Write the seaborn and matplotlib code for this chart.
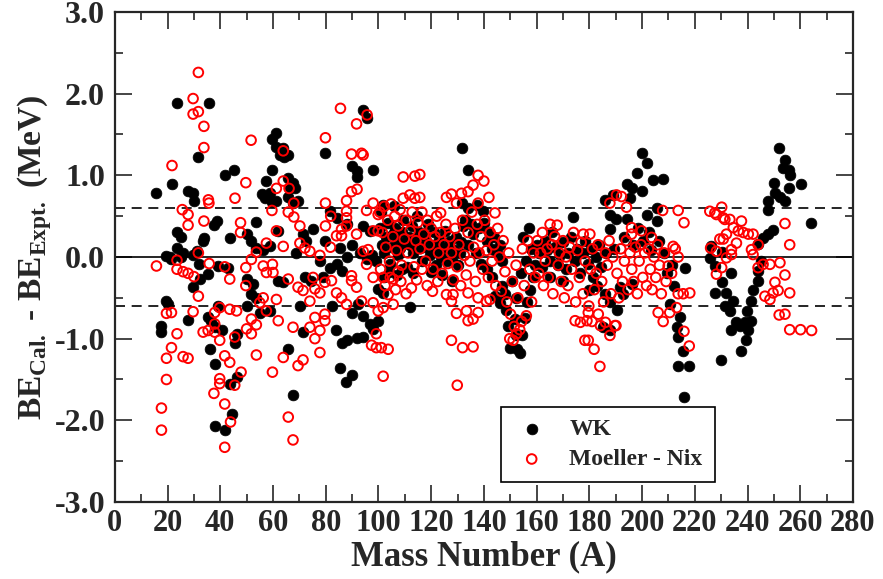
import numpy as np
import pandas as pd
import matplotlib
matplotlib.use('Agg')
import matplotlib.pyplot as plt
import seaborn as sns
from matplotlib.ticker import MultipleLocator, FormatStrFormatter

# WK model: binding-energy difference vs mass number
wk_mass_light = [15.8, 17.7, 17.7, 19.6, 19.6, 20.2, 20.9, 21.5, 21.7, 23.6,
                 23.6, 23.6, 25.3, 25.3, 25.9, 27.8, 27.8, 29.5, 29.7, 29.7,
                 30.0, 31.0, 31.7, 32.0, 32.2, 33.3, 33.8, 35.4, 35.4, 35.7,
                 36.0, 36.6, 37.6, 37.9, 37.9, 37.9, 38.6, 39.2, 39.2, 40.5,
                 41.7, 41.7, 43.0, 43.6, 43.6, 44.3, 45.4, 45.5, 46.2, 46.2,
                 50.0, 50.0, 50.0, 51.8, 51.8, 52.5, 53.7, 53.7, 53.7, 55.0,
                 56.0, 56.3, 57.0, 57.5, 58.8, 58.8, 59.7, 59.6, 59.8, 61.3,
                 61.3, 61.3, 62.0, 62.0, 62.6, 63.9, 63.9, 64.1, 65.8, 65.8,
                 65.8, 65.8, 58.8]
wk_diff_light = [0.78, -0.84, -0.92, 0.01, -0.54, -0.58, 0.00, -0.03, 0.89, 1.89,
                 0.30, 0.11, 0.24, 0.00, 0.05, 0.81, -0.77, 0.78, 0.03, -0.37,
                 0.69, 0.07, 1.23, -0.09, -0.27, 0.19, 0.23, -0.21, -0.74, 1.88,
                 -1.13, -0.78, 0.39, -0.86, -1.31, -2.07, 0.44, -0.11, -0.60, -0.90,
                 1.00, -2.12, -0.13, 0.23, -1.55, -1.92, 1.07, -1.05, -0.94, -1.47,
                 0.28, -0.27, -0.60, 0.20, -0.45, -0.33, 0.43, 0.11, -0.50, -0.68,
                 0.77, 0.09, 0.72, 0.93, -0.66, 0.78, 0.67, 1.45, 1.07, 1.52,
                 1.35, 0.68, -0.29, 0.32, 1.25, 1.33, -0.31, 1.23, 1.25, 0.97,
                 0.74, -1.13, 0.13]

wk_mass_mid = [66.4, 67.6, 67.6, 67.6, 68.3, 68.9, 69.5, 70.2, 71.4, 71.4,
               72.1, 72.7, 74.6, 75.2, 77.8, 79.0, 79.7, 79.7, 81.6, 81.6,
               82.2, 83.8, 84.1, 84.1, 85.4, 85.6, 86.0, 86.0, 87.6, 87.9,
               87.9, 87.9, 89.8, 89.8, 89.8, 89.8, 91.7, 91.9, 91.9, 92.3,
               94.0, 94.2, 94.2, 94.2, 95.7, 96.7, 96.7, 98.0, 98.0, 99.9,
               99.9, 95.5, 97.5, 99.0, 93.0]
wk_diff_mid = [0.85, 0.91, 0.66, -1.69, 0.85, 0.05, 0.68, -0.60, 0.28, -0.92,
               -0.25, 0.20, -0.29, 0.34, -0.05, -0.25, 1.27, 0.20, 0.56, -0.13,
               -0.60, -0.89, 0.48, -0.09, 0.11, -1.36, -1.05, -0.17, -1.53, 0.40,
               0.00, -1.02, 1.12, 0.15, -0.68, -1.45, 1.05, 0.98, -0.99, -0.58,
               1.80, 0.38, -0.72, -0.98, 1.70, -0.82, 0.32, 1.06, -0.88, -0.78,
               -0.39, -0.02, 0.02, -0.05, 0.05]

wk_mass_dense = [100.5, 101.5, 101.8, 101.8, 102.3, 103.0, 103.8, 104.5, 105.2, 105.6,
                 106.3, 106.9, 107.5, 108.1, 108.8, 109.5, 110.2, 110.8, 111.5, 111.9,
                 112.6, 113.3, 114.0, 114.7, 115.3, 115.7, 116.4, 117.1, 117.8, 118.2,
                 118.9, 119.6, 120.3, 121.0, 121.7, 122.4, 123.1, 123.8, 124.5, 125.2,
                 125.9, 126.6, 127.3, 128.0, 128.7, 129.4, 130.1, 130.8, 131.5, 132.2,
                 111.9, 102.0, 104.0, 107.0, 109.0, 113.0, 120.0, 124.0, 128.0, 101.0,
                 106.0, 131.8, 133.8, 131.8, 134.0, 137.2, 139.7, 133.0, 135.0, 136.0,
                 138.0, 140.0, 141.0, 142.0, 143.0, 144.0, 145.0, 146.0, 147.0, 134.0,
                 137.0, 139.0, 141.0, 143.0, 144.2, 146.0, 147.0, 148.0, 148.5, 149.2,
                 149.8, 151.7, 152.4, 153.6, 152.0, 154.5, 155.5, 156.5, 157.5, 158.5,
                 159.5, 150.5, 152.0, 154.0, 156.0, 158.0, 160.0, 155.0, 157.0]
wk_diff_dense = [0.36, 0.15, -0.44, 0.64, 0.05, 0.25, 0.42, -0.08, 0.12, 0.28,
                 0.35, 0.20, 0.02, 0.11, 0.30, 0.45, 0.18, -0.12, 0.25, 0.15,
                 0.38, 0.05, 0.22, 0.50, 0.30, 0.11, -0.05, 0.28, 0.12, 0.20,
                 0.40, 0.02, 0.15, 0.30, -0.10, 0.08, 0.22, 0.00, 0.12, 0.32,
                 -0.05, 0.10, 0.20, -0.02, 0.08, 0.25, -0.10, 0.05, 0.18, 0.38,
                 -0.61, -0.25, -0.18, -0.22, -0.15, -0.20, -0.18, -0.22, -0.30, 0.55,
                 0.62, 1.33, 1.07, 0.66, 0.60, 0.64, 0.56, 0.45, 0.40, 0.28,
                 0.35, 0.42, 0.20, 0.30, 0.10, 0.25, 0.05, 0.15, -0.05, 0.15,
                 0.05, -0.08, -0.15, -0.25, -0.48, -0.56, -0.35, -0.45, -0.65, -0.84,
                 -1.11, -0.76, -1.13, -1.17, -0.95, -0.95, -0.75, -0.55, -0.40, -0.25,
                 -0.10, -0.30, -0.50, -0.20, -0.05, 0.10, 0.15, 0.25, 0.35]

wk_mass_heavy = [161.0, 162.0, 163.0, 164.0, 165.0, 166.0, 167.0, 168.0, 169.0, 170.0,
                 171.0, 172.0, 173.0, 173.9, 174.5, 175.5, 176.5, 177.5, 178.5, 179.5,
                 180.5, 181.5, 182.5, 183.5, 184.5, 185.2, 185.9, 186.5, 187.8, 187.8,
                 187.8, 189.0, 189.5, 190.3, 191.6, 192.9, 193.0, 194.1, 194.1, 195.4,
                 196.0, 196.0, 196.5, 197.9, 198.5, 199.8, 199.8, 200.5, 201.7, 201.9,
                 202.5, 203.5, 204.0, 205.7, 205.7, 206.5, 207.8, 208.5, 209.5, 210.5,
                 211.5, 212.3, 213.1, 213.7, 213.7, 214.3, 215.6, 215.9, 216.2, 217.9,
                 188.0, 190.5, 186.0, 183.0, 180.0, 170.0, 165.0]
wk_diff_heavy = [0.05, -0.12, 0.20, 0.08, -0.05, 0.30, 0.12, -0.10, 0.02, 0.18,
                 -0.15, 0.05, 0.25, 0.49, -0.05, 0.10, -0.20, 0.05, 0.20, -0.08,
                 0.10, -0.25, 0.00, 0.15, -0.12, -0.86, 0.70, 0.05, -0.90, 0.52,
                 0.34, 0.76, 0.10, 0.46, -0.37, -0.45, 0.25, 0.89, 0.46, 0.72,
                 0.85, -0.33, 0.15, 1.03, 0.35, 1.27, 0.81, 0.20, 0.52, 1.15,
                 0.30, 0.08, 0.94, 0.60, 0.44, 0.20, 0.96, 0.05, -0.20, -0.58,
                 -0.10, -0.35, -0.86, -0.98, -1.33, -0.74, -1.15, -1.71, -0.13, -1.34,
                 -0.55, -0.65, -0.45, -0.35, -0.40, -0.30, -0.25]

wk_mass_actinide = [225.7, 226.0, 227.6, 227.6, 229.8, 230.2, 230.2, 231.4, 232.0, 233.3,
                    233.9, 233.9, 234.6, 235.8, 237.1, 237.7, 239.0, 239.6, 239.8, 240.3,
                    241.5, 241.5, 242.1, 244.0, 244.0, 244.0, 245.3, 245.9, 247.8, 247.8,
                    247.8, 249.7, 250.0, 250.4, 251.9, 252.5, 253.5, 254.2, 254.2, 255.8,
                    255.8, 256.0, 260.1, 263.9]
wk_diff_actinide = [-0.01, 0.13, -0.11, -0.44, -1.26, 0.06, -0.31, -0.60, -0.44, -0.66,
                    -0.19, -0.90, -0.54, -0.80, -0.84, -1.15, -0.80, -1.02, -0.66, -0.90,
                    -0.78, -0.54, -0.41, -0.29, -0.17, 0.16, -0.05, 0.23, 0.28, 0.68,
                    0.57, 0.33, 0.91, 0.78, 1.34, 0.74, 1.09, 1.19, 0.68, 1.07,
                    0.85, 1.00, 0.89, 0.42]

# Moeller - Nix
mn_mass_light = [15.8, 17.7, 17.7, 19.6, 19.6, 19.6, 21.5, 21.5, 21.7, 23.6,
                 23.6, 23.6, 25.6, 25.9, 25.9, 27.8, 27.8, 27.8, 27.8, 29.7,
                 29.7, 29.7, 30.0, 31.7, 31.7, 31.7, 31.7, 33.5, 33.8, 33.8,
                 33.8, 35.4, 35.5, 35.7, 35.8, 37.6, 37.9, 37.9, 37.9, 39.8,
                 39.8, 39.8, 39.8, 41.7, 41.7, 41.7, 41.7, 43.6, 43.6, 43.6,
                 43.9, 45.5, 45.5, 45.6, 46.2, 47.7, 47.7, 47.9, 49.7, 49.7,
                 49.7, 50.0, 51.7, 51.8, 51.8, 51.8, 53.7, 53.7, 53.7, 55.0,
                 56.3, 56.3, 57.5, 57.5, 57.5, 59.6, 59.8, 59.8, 60.0, 61.3,
                 61.3, 61.3, 62.0, 63.9, 63.9, 63.9, 63.9, 65.8, 65.8, 65.8]
mn_diff_light = [-0.11, -1.85, -2.12, -0.69, -1.24, -1.50, -0.68, -1.11, 1.12, -0.04,
                 -0.15, -0.94, 0.58, -0.18, -1.22, 0.52, 0.39, -0.20, -1.24, 1.94,
                 1.75, -0.67, -0.24, 2.26, 1.78, 0.05, -0.48, -0.92, 1.60, 1.34,
                 0.44, -0.90, 0.70, 0.66, -0.08, -1.67, -0.68, -0.82, -0.92, -0.62,
                 -1.02, -1.49, -1.55, -0.12, -1.21, -1.80, -2.33, -0.27, -0.64, -1.29,
                 -2.02, -0.98, -1.57, 0.72, -0.66, 0.42, 0.30, -1.41, 0.91, -0.13,
                 -0.35, -0.88, 1.43, -0.03, -0.76, -0.94, 0.06, -0.83, -1.20, -0.56,
                 -0.11, -0.50, 0.17, -0.19, -0.66, 0.57, -0.09, -1.41, -0.19, 0.84,
                 0.32, -0.52, -0.78, 1.30, 0.93, 0.13, -1.23, 0.55, -0.27, -1.96]

mn_mass_mid = [66.1, 67.6, 67.6, 67.9, 67.9, 69.5, 69.5, 70.2, 70.2, 71.4,
               71.4, 72.1, 74.0, 74.0, 74.0, 75.2, 75.9, 75.9, 75.9, 77.8,
               77.8, 77.8, 77.8, 79.7, 79.7, 79.7, 79.9, 79.9, 79.9, 81.8,
               81.9, 82.2, 84.1, 84.1, 85.6, 86.0, 86.0, 86.0, 87.9, 87.9,
               87.9, 87.9, 87.9, 89.8, 89.8, 89.8, 89.8, 91.7, 91.7, 91.7,
               91.9, 93.6, 93.6, 94.2, 95.5, 95.7, 97.4, 98.0, 98.0, 98.0,
               99.2, 99.2, 99.9, 95.5, 99.9, 98.0, 99.9, 96.1, 94.2]
mn_diff_mid = [0.84, -0.86, -2.24, 0.66, 0.49, -0.37, -1.33, 0.38, 0.17, -0.41,
               -1.26, 0.11, 0.07, -0.54, -0.86, -0.25, -0.39, -0.74, -1.00, 0.02,
               -0.44, -0.90, -1.17, -0.31, -0.70, -0.78, 1.46, 0.66, 0.38, 0.12,
               0.50, -0.29, 0.26, -0.44, 1.82, 0.34, 0.26, -0.50, 0.69, 0.56,
               0.48, 0.38, -0.58, 1.26, 0.80, -0.23, -0.29, 1.63, 0.28, -0.37,
               0.83, 1.27, -0.54, 1.25, -0.09, 1.74, -1.08, 0.66, -0.25, -0.56,
               -0.94, -1.11, -0.66, 0.57, 0.52, 0.32, 0.32, 0.09, 0.07]

mn_mass_dense = [100.5, 101.5, 102.2, 102.8, 103.5, 104.2, 104.8, 105.5, 106.2, 106.8,
                 107.5, 108.2, 108.8, 109.4, 109.4, 109.8, 110.5, 111.2, 111.9, 112.0,
                 112.8, 113.5, 113.8, 113.8, 114.2, 114.9, 115.7, 115.7, 115.8, 116.5,
                 117.2, 117.9, 118.6, 119.3, 120.0, 120.7, 121.4, 122.1, 122.8, 123.5,
                 123.6, 124.2, 124.9, 125.6, 125.8, 126.3, 127.0, 127.7, 127.7, 128.4,
                 129.1, 129.6, 129.8, 130.5, 131.2, 131.5, 131.9, 132.6, 133.3, 134.0,
                 134.0, 134.7, 135.4, 135.9, 136.1, 136.8, 137.5, 137.8, 137.8, 138.2,
                 138.9, 139.6, 140.0, 140.3, 141.0, 141.7, 141.9, 142.4, 143.1, 143.8,
                 144.2, 144.5, 145.2, 145.9, 146.6, 147.3, 148.0, 148.7, 149.4, 149.8,
                 150.1, 150.8, 151.1, 151.5, 152.2, 152.4, 152.9, 153.6, 154.3, 154.6,
                 155.3, 156.1, 156.7, 157.4, 158.1, 158.8, 159.5,
                 100.8, 102.5, 104.5, 106.5, 108.5, 110.5, 112.5, 114.5, 116.5, 118.5,
                 120.5, 122.5, 125.8, 128.3, 127.7, 134.0, 137.8, 140.9, 142.3, 129.6,
                 133.4, 134.0, 135.9, 137.8, 127.7, 131.9, 135.9, 129.9, 101.8, 105.6,
                 107.5, 103.7, 101.8, 105.6, 101.1, 103.7, 101.8]
mn_diff_dense = [0.55, 0.30, 0.62, 0.12, 0.45, -0.05, 0.65, 0.25, 0.50, 0.08,
                 0.38, 0.58, -0.10, 0.98, 0.72, 0.22, 0.45, 0.05, 0.76, 0.32,
                 0.55, -0.12, 0.99, 0.72, 0.20, 0.42, 1.01, 0.73, 0.10, 0.55,
                 0.28, -0.05, 0.45, 0.15, 0.35, -0.15, 0.25, 0.50, 0.05, 0.30,
                 0.54, -0.20, 0.15, 0.40, 0.73, -0.08, 0.25, 0.77, 0.05, -0.28,
                 0.35, 0.66, -0.12, 0.15, -0.35, 0.78, 0.45, 0.02, -0.22, 0.80,
                 0.30, -0.05, 0.55, 0.88, 0.12, -0.30, 0.40, 1.00, 0.66, 0.05,
                 0.25, -0.15, 0.93, 0.45, 0.08, -0.25, 0.73, 0.30, -0.05, 0.15,
                 0.54, -0.35, 0.35, 0.00, -0.42, 0.20, -0.18, -0.55, 0.05, -1.00,
                 -0.70, -0.30, -1.02, -0.85, -0.10, -0.94, -0.50, -0.89, -0.79, 0.10,
                 -0.35, -0.72, 0.20, -0.15, -0.55, 0.05, -0.25,
                 -0.15, -0.35, -0.25, -0.40, -0.30, -0.45, -0.38, -0.28, -0.15, -0.35,
                 -0.42, -0.30, -0.46, -0.46, -0.54, -0.44, -0.50, -0.54, -0.52, -0.69,
                 -0.66, -0.78, -0.76, -0.68, -1.02, -1.11, -1.10, -1.57, -0.25, -0.27,
                 -0.18, -0.46, -0.62, -0.58, -1.11, -1.13, -1.46]

mn_mass_heavy = [160.3, 160.8, 161.5, 162.2, 162.6, 163.3, 164.0, 164.4, 165.1, 165.8,
                 166.2, 166.9, 167.8, 168.2, 168.6, 169.3, 170.0, 170.5, 171.2, 171.9,
                 172.6, 173.3, 174.0, 174.6, 174.8, 175.5, 176.2, 176.6, 176.9, 177.7,
                 177.6, 178.3, 178.4, 179.1, 179.6, 179.6, 179.8, 180.2, 180.5, 181.0,
                 181.2, 181.8, 181.9, 182.6, 183.3, 183.4, 184.0, 184.2, 184.7, 185.4,
                 186.1, 186.1, 186.8, 187.5, 187.8, 187.8, 188.2, 188.9, 189.7, 190.1,
                 190.3, 190.5, 191.2, 191.9, 192.2, 192.6, 193.3, 194.0, 194.1, 194.7,
                 195.4, 196.0, 196.0, 196.1, 196.8, 197.5, 198.2, 198.9, 199.6, 199.8,
                 200.3, 201.0, 201.7, 202.4, 203.1, 203.6, 203.8, 204.5, 205.2, 205.9,
                 206.1, 206.6, 207.3, 207.8, 208.0, 208.4, 209.1, 209.9, 210.5, 211.2,
                 211.8, 212.6, 213.1, 213.7, 213.7, 213.7, 215.6, 215.9, 215.9, 217.9,
                 218.1]
mn_diff_heavy = [0.20, -0.20, 0.05, 0.30, -0.35, -0.05, 0.10, -0.25, 0.40, 0.15,
                 -0.45, 0.25, 0.39, -0.10, 0.05, -0.30, 0.20, -0.50, 0.00, -0.35,
                 0.12, -0.15, 0.30, -0.78, -0.55, 0.08, -0.25, -0.80, 0.18, 0.28,
                 -0.45, -1.02, -0.05, -0.78, -1.02, -0.68, -0.60, 0.28, -0.15, -0.79,
                 0.10, -1.13, -0.40, -0.20, 0.15, -0.70, -1.34, -0.84, -0.30, -0.55,
                 -0.80, 0.05, -0.10, 0.20, 0.66, -0.96, -0.45, 0.00, -0.84, -0.84,
                 0.76, -0.20, -0.50, 0.10, 0.74, -0.30, -0.05, 0.20, 0.61, -0.40,
                 0.05, 0.36, 0.28, -0.15, -0.30, 0.12, -0.45, -0.05, 0.15, 0.32,
                 -0.25, 0.05, -0.35, 0.10, -0.15, 0.24, -0.40, 0.00, -0.25, 0.15,
                 -0.68, -0.10, -0.45, 0.57, -0.79, 0.05, -0.30, -0.11, -0.68, -0.20,
                 0.13, 0.10, -0.62, 0.57, 0.00, -0.45, -0.45, 0.42, -0.91, -1.09,
                 -0.44]

mn_mass_actinide = [225.7, 226.0, 227.6, 228.2, 228.2, 228.2, 229.5, 230.2, 230.2, 230.8,
                    230.8, 231.4, 232.0, 232.0, 233.3, 233.9, 233.9, 234.6, 235.8, 236.5,
                    237.7, 238.4, 240.3, 241.5, 242.1, 242.1, 244.0, 244.0, 245.9, 246.6,
                    248.5, 248.5, 249.7, 250.4, 251.6, 252.0, 252.3, 254.2, 254.2, 254.2,
                    256.0, 256.0, 256.0, 260.1, 264.3]
mn_diff_actinide = [0.56, 0.11, 0.54, -0.21, 0.52, 0.07, 0.22, 0.61, -0.13, 0.48,
                    0.22, 0.46, 0.28, -0.01, 0.46, 0.09, 0.03, 0.36, 0.17, 0.32,
                    0.44, 0.30, 0.28, 0.09, 0.28, 0.03, 0.15, -0.13, -0.09, -0.48,
                    -0.09, -0.52, -0.44, -0.31, -0.41, -0.71, -0.07, 0.41, -0.22, -0.70,
                    0.15, -0.44, -0.89, -0.89, -0.90]

wk = pd.DataFrame({
    'A': wk_mass_light + wk_mass_mid + wk_mass_dense + wk_mass_heavy + wk_mass_actinide,
    'dBE': wk_diff_light + wk_diff_mid + wk_diff_dense + wk_diff_heavy + wk_diff_actinide,
})
mn = pd.DataFrame({
    'A': mn_mass_light + mn_mass_mid + mn_mass_dense + mn_mass_heavy + mn_mass_actinide,
    'dBE': mn_diff_light + mn_diff_mid + mn_diff_dense + mn_diff_heavy + mn_diff_actinide,
})

sns.set_style('ticks')
plt.rcParams['font.family'] = ['Liberation Serif', 'DejaVu Serif']
plt.rcParams['font.weight'] = 'bold'
plt.rcParams['mathtext.fontset'] = 'custom'
plt.rcParams['mathtext.rm'] = 'Liberation Serif:bold'
plt.rcParams['mathtext.bf'] = 'Liberation Serif:bold'

fig, ax = plt.subplots(figsize=(8.83, 5.79), dpi=100)
fig.subplots_adjust(left=0.130, right=0.966, top=1 - 12 / 579, bottom=0.133)

ax.axhline(0, color='black', lw=1.2, zorder=1)
ax.axhline(0.6, color='black', lw=1.2, ls=(0, (6, 4)), zorder=1)
ax.axhline(-0.6, color='black', lw=1.2, ls=(0, (6, 4)), zorder=1)

sns.scatterplot(data=wk, x='A', y='dBE', color='black', edgecolor='black',
                s=60, linewidth=0.5, label='WK', ax=ax, zorder=3)
sns.scatterplot(data=mn, x='A', y='dBE', facecolor='none', edgecolor='red',
                s=48, linewidth=1.4, label='Moeller - Nix', ax=ax, zorder=4)

ax.set_xlim(0, 280)
ax.set_ylim(-3, 3)
ax.xaxis.set_major_locator(MultipleLocator(20))
ax.xaxis.set_minor_locator(MultipleLocator(10))
ax.yaxis.set_major_locator(MultipleLocator(1))
ax.yaxis.set_minor_locator(MultipleLocator(0.5))
ax.yaxis.set_major_formatter(FormatStrFormatter('%.1f'))
ax.tick_params(which='both', direction='in', top=True, right=True, width=1.2)
ax.tick_params(which='major', length=12)
ax.tick_params(axis='x', which='major', labelsize=22, pad=5)
ax.tick_params(axis='y', which='major', labelsize=23, pad=7)
ax.tick_params(which='minor', length=6)
for s in ax.spines.values():
    s.set_linewidth(1.6)

ax.set_xlabel('Mass Number (A)', fontsize=25, fontweight='bold', labelpad=2)
ax.set_ylabel(r'BE$_{\mathrm{Cal.}}$ - BE$_{\mathrm{Expt.}}$ (MeV)', fontsize=24,
              fontweight='bold')
ax.yaxis.set_label_coords(-0.083, 0.5)

leg = ax.legend(loc='lower left', bbox_to_anchor=(501 / 883, 1 - 482 / 579),
                bbox_transform=fig.transFigure, fontsize=17, frameon=True,
                fancybox=False, edgecolor='black', framealpha=1,
                borderpad=0.5, borderaxespad=0, handlelength=1.6,
                handletextpad=0.8, labelspacing=0.35)
leg.get_frame().set_linewidth(1.2)

plt.savefig('out.png', dpi=100)
